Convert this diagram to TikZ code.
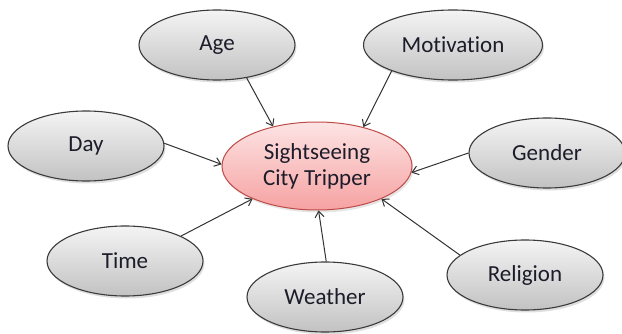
\documentclass[tikz,border=0pt]{standalone}
\usepackage{fontspec}
\setmainfont[RawFeature=-liga]{Carlito}
\usetikzlibrary{shapes.geometric,arrows.meta,shadows}

\definecolor{factortop}{HTML}{F4F4F4}
\definecolor{factorbot}{HTML}{C2C2C2}
\definecolor{factorline}{HTML}{3A3A3A}
\definecolor{goaltop}{HTML}{FDE4E4}
\definecolor{goalbot}{HTML}{F6A2A2}
\definecolor{goalline}{HTML}{BE4B48}
\definecolor{labelink}{HTML}{1C1C2A}
\definecolor{linkline}{HTML}{333333}

\tikzset{
  factor/.style={ellipse, draw=factorline, line width=1.1pt,
    top color=factortop, bottom color=factorbot,
    minimum width=156pt, minimum height=70pt, inner sep=0pt,
    text=labelink, font=\fontsize{23}{26}\selectfont,
    drop shadow={shadow xshift=1.5pt, shadow yshift=-2.5pt, opacity=0.25}},
  goal/.style={ellipse, draw=goalline, line width=1pt,
    top color=goaltop, bottom color=goalbot,
    minimum width=190pt, minimum height=88pt, inner sep=0pt,
    align=center, text=labelink, font=\fontsize{23}{26}\selectfont,
    drop shadow={shadow xshift=1.5pt, shadow yshift=-2.5pt, opacity=0.2}},
  link/.style={draw=linkline, line width=1pt,
    -{Straight Barb[length=6pt,width=9pt,line width=1pt]}}
}

\begin{document}
\begin{tikzpicture}[x=1pt,y=1pt]
  \useasboundingbox (0,0) rectangle (622,333);

  % central goal
  \node[goal] (city) at (317,167) {Sightseeing\\City Tripper};

  % influencing factors
  \node[factor] (age) at (217,288) {Age};
  \node[factor, minimum width=179pt] (motivation) at (453,288) {Motivation};
  \node[factor] (day) at (86,187) {Day};
  \node[factor] (gender) at (547,180) {Gender};
  \node[factor] (time) at (125,72) {Time};
  \node[factor] (weather) at (325,36) {Weather};
  \node[factor] (religion) at (525,58) {Religion};

  % arrows into the goal
  \draw[link] (age.-48.5) -- (city.138.4);
  \draw[link] (motivation.-157) -- (city.40.5);
  \draw[link] (day.2) -- (city.179.4);
  \draw[link] (gender.180) -- (city.-4.2);
  \draw[link] (time.24.4) -- (city.-153.8);
  \draw[link] (weather.88.3) -- (city.-88.8);
  \draw[link] (religion.163.8) -- (city.-27.5);
\end{tikzpicture}
\end{document}
